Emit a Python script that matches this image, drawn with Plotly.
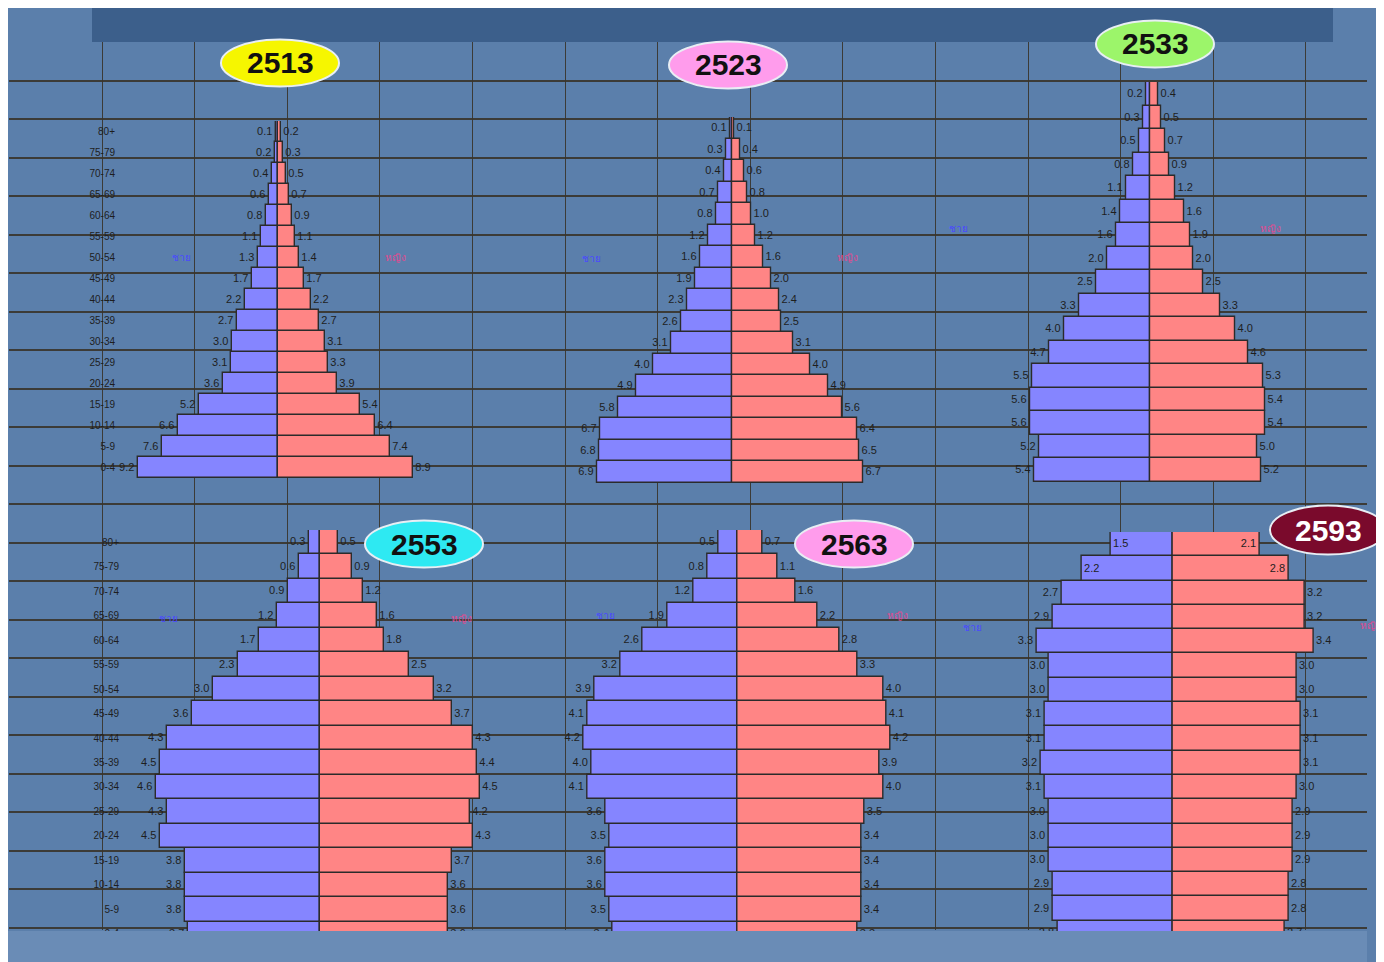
import plotly.graph_objects as go

# page is 1384x962; the page body adds an 8px white margin on the left and top
PAGE_W, PAGE_H = 1384, 962
OFF = 8
FW, FH = PAGE_W - OFF, PAGE_H - OFF

# age groups, bottom (0-4) to top (80+)
ages = ["0-4", "5-9", "10-14", "15-19", "20-24", "25-29", "30-34", "35-39",
        "40-44", "45-49", "50-54", "55-59", "60-64", "65-69", "70-74", "75-79", "80+"]

years = ["2513", "2523", "2533", "2553", "2563", "2593"]

# percent of population, listed from 0-4 upward
male_2513 = [9.2, 7.6, 6.6, 5.2, 3.6, 3.1, 3.0, 2.7, 2.2, 1.7, 1.3, 1.1, 0.8, 0.6, 0.4, 0.2, 0.1]
female_2513 = [8.9, 7.4, 6.4, 5.4, 3.9, 3.3, 3.1, 2.7, 2.2, 1.7, 1.4, 1.1, 0.9, 0.7, 0.5, 0.3, 0.2]
male_2523 = [6.9, 6.8, 6.7, 5.8, 4.9, 4.0, 3.1, 2.6, 2.3, 1.9, 1.6, 1.2, 0.8, 0.7, 0.4, 0.3, 0.1]
female_2523 = [6.7, 6.5, 6.4, 5.6, 4.9, 4.0, 3.1, 2.5, 2.4, 2.0, 1.6, 1.2, 1.0, 0.8, 0.6, 0.4, 0.1]
male_2533 = [5.4, 5.2, 5.6, 5.6, 5.5, 4.7, 4.0, 3.3, 2.5, 2.0, 1.6, 1.4, 1.1, 0.8, 0.5, 0.3, 0.2]
female_2533 = [5.2, 5.0, 5.4, 5.4, 5.3, 4.6, 4.0, 3.3, 2.5, 2.0, 1.9, 1.6, 1.2, 0.9, 0.7, 0.5, 0.4]
male_2553 = [3.7, 3.8, 3.8, 3.8, 4.5, 4.3, 4.6, 4.5, 4.3, 3.6, 3.0, 2.3, 1.7, 1.2, 0.9, 0.6, 0.3]
female_2553 = [3.6, 3.6, 3.6, 3.7, 4.3, 4.2, 4.5, 4.4, 4.3, 3.7, 3.2, 2.5, 1.8, 1.6, 1.2, 0.9, 0.5]
male_2563 = [3.4, 3.5, 3.6, 3.6, 3.5, 3.6, 4.1, 4.0, 4.2, 4.1, 3.9, 3.2, 2.6, 1.9, 1.2, 0.8, 0.5]
female_2563 = [3.3, 3.4, 3.4, 3.4, 3.4, 3.5, 4.0, 3.9, 4.2, 4.1, 4.0, 3.3, 2.8, 2.2, 1.6, 1.1, 0.7]
male_2593 = [2.8, 2.9, 2.9, 3.0, 3.0, 3.0, 3.1, 3.2, 3.1, 3.1, 3.0, 3.0, 3.3, 2.9, 2.7, 2.2, 1.5]
female_2593 = [2.7, 2.8, 2.8, 2.9, 2.9, 2.9, 3.0, 3.1, 3.1, 3.1, 3.0, 3.0, 3.4, 3.2, 3.2, 2.8, 2.1]

male_label = "ชาย"
female_label = "หญิง"

MALE_COL = "#8585ff"
FEMALE_COL = "#ff8585"
EDGE = "#2b2b2b"
TXT = "#1e1e1e"
BG = "#5b7fab"
GRID = "rgba(56,52,42,0.9)"
FONT = "Liberation Sans, Arial"

# layout of each panel (screen pixels): centre x, px per unit, half range, top y, bottom y,
# show ages, label standoff, number of top rows whose labels sit inside the bars
panels = [
    (male_2513, female_2513, 278, 15.2, 10, 121, 478, True, 10, 0),
    (male_2523, female_2523, 732, 19.6, 8, 117, 483, False, 0, 0),
    (male_2533, female_2533, 1150, 21.4, 7, 82, 482, False, 0, 0),
    (male_2553, female_2553, 320, 35.6, 5, 530, 946, True, 22, 0),
    (male_2563, female_2563, 737, 36.5, 5, 530, 946, False, 0, 0),
    (male_2593, female_2593, 1173, 41.3, 4, 532, 945, False, 0, 2),
]

# ellipse badges: centre x, centre y, width, height, fill, text colour
badges = [
    (280, 63, 118, 47, "#f6f600", "#111111"),
    (728, 65, 118, 47, "#ff9cec", "#111111"),
    (1155, 44, 118, 47, "#9cf56a", "#111111"),
    (424, 544, 118, 47, "#2ee9f2", "#111111"),
    (854, 544, 118, 47, "#ff9cec", "#111111"),
    (1328, 530, 116, 49, "#7a0a2c", "#ffffff"),
]

# sex captions positions (screen pixels)
sex_pos = [
    ((181, 257), (395, 257)),
    ((591, 258), (847, 257)),
    ((959, 228), (1270, 228)),
    ((168, 618), (462, 618)),
    ((605, 615), (897, 615)),
    ((972, 627), (1370, 625)),
]


def fx(x):
    return (x - OFF) / FW


def fy(y):
    return 1 - (y - OFF) / FH


fig = go.Figure()

# background grid subplot (first, so it lies beneath the pyramids)
fig.add_trace(go.Scatter(x=[], y=[], xaxis="x", yaxis="y", showlegend=False, hoverinfo="skip"))
layout = dict(
    xaxis=dict(domain=[fx(9), fx(1367)], range=[9, 1367], tick0=102, dtick=92.6,
               showgrid=True, gridcolor=GRID, gridwidth=1.4, zeroline=False,
               showticklabels=False, ticks="", fixedrange=True),
    yaxis=dict(domain=[fy(930), fy(42)], range=[930, 42], tick0=42, dtick=38.5,
               showgrid=True, gridcolor=GRID, gridwidth=2, zeroline=False,
               showticklabels=False, ticks="", fixedrange=True),
)

ypos = list(range(len(ages)))
nrows = len(ages)
for i, (m, f, cx, s, r, yt, yb, show_ages, standoff, n_in) in enumerate(panels):
    n = i + 2
    xa, ya = f"x{n}", f"y{n}"
    tpos = ["inside" if k >= nrows - n_in else "outside" for k in ypos]
    for vals, sign, col, lab in ((m, -1, MALE_COL, male_label), (f, 1, FEMALE_COL, female_label)):
        fig.add_trace(go.Bar(
            y=ypos, x=[sign * v for v in vals], orientation="h", xaxis=xa, yaxis=ya,
            marker=dict(color=col, line=dict(color=EDGE, width=1.4)),
            text=[f"{v:.1f}" for v in vals], textposition=tpos, constraintext="none",
            insidetextanchor="end",
            textfont=dict(family=FONT, size=11, color=TXT),
            insidetextfont=dict(family=FONT, size=11, color=TXT),
            outsidetextfont=dict(family=FONT, size=11, color=TXT),
            cliponaxis=False, showlegend=False, name=f"{lab} {years[i]}"))
    x0 = max(0.0, fx(cx - r * s))
    x1 = min(1.0, fx(cx + r * s))
    layout[f"xaxis{n}"] = dict(domain=[x0, x1], range=[-r, r], anchor=ya,
                               showgrid=False, zeroline=False, showticklabels=False,
                               ticks="", showline=False, fixedrange=True)
    layout[f"yaxis{n}"] = dict(domain=[fy(yb), fy(yt)], range=[-0.5, nrows - 0.5],
                               anchor=xa, tickvals=ypos, ticktext=ages,
                               showticklabels=show_ages, ticks="", showgrid=False,
                               zeroline=False, showline=False, fixedrange=True,
                               ticklabelstandoff=standoff,
                               tickfont=dict(family=FONT, size=10, color=TXT))

shapes = [
    # dark header band
    dict(type="rect", xref="paper", yref="paper", x0=fx(92), x1=fx(1333), y0=fy(42), y1=fy(8),
         fillcolor="#3c5f8b", line=dict(width=0), layer="below"),
    # bottom band
    dict(type="rect", xref="paper", yref="paper", x0=fx(8), x1=fx(1367), y0=0, y1=fy(931),
         fillcolor="#6a8cb6", line=dict(width=0), layer="above"),
]
annotations = []
for (cx, cy, w, h, fill, tc), yr in zip(badges, years):
    shapes.append(dict(type="circle", xref="paper", yref="paper",
                       x0=fx(cx - w / 2), x1=fx(cx + w / 2), y0=fy(cy + h / 2), y1=fy(cy - h / 2),
                       fillcolor=fill, line=dict(color="#e8eef4", width=2), layer="above"))
    annotations.append(dict(text=f"<b>{yr}</b>", x=fx(cx), y=fy(cy), xref="paper", yref="paper",
                            xanchor="center", yanchor="middle", showarrow=False,
                            font=dict(family=FONT, size=30, color=tc)))

for (mp, fp) in sex_pos:
    annotations.append(dict(text=male_label, x=fx(mp[0]), y=fy(mp[1]), xref="paper", yref="paper",
                            xanchor="center", yanchor="middle", showarrow=False,
                            font=dict(size=10, color="#4a4aff")))
    annotations.append(dict(text=female_label, x=fx(fp[0]), y=fy(fp[1]), xref="paper", yref="paper",
                            xanchor="center", yanchor="middle", showarrow=False,
                            font=dict(size=10, color="#e04a90")))

fig.update_layout(
    width=FW, height=FH, margin=dict(l=0, r=0, t=0, b=0),
    paper_bgcolor=BG, plot_bgcolor="rgba(0,0,0,0)",
    barmode="overlay", bargap=0.0,
    shapes=shapes, annotations=annotations, showlegend=False,
    **layout,
)

fig.write_html("out.html")
